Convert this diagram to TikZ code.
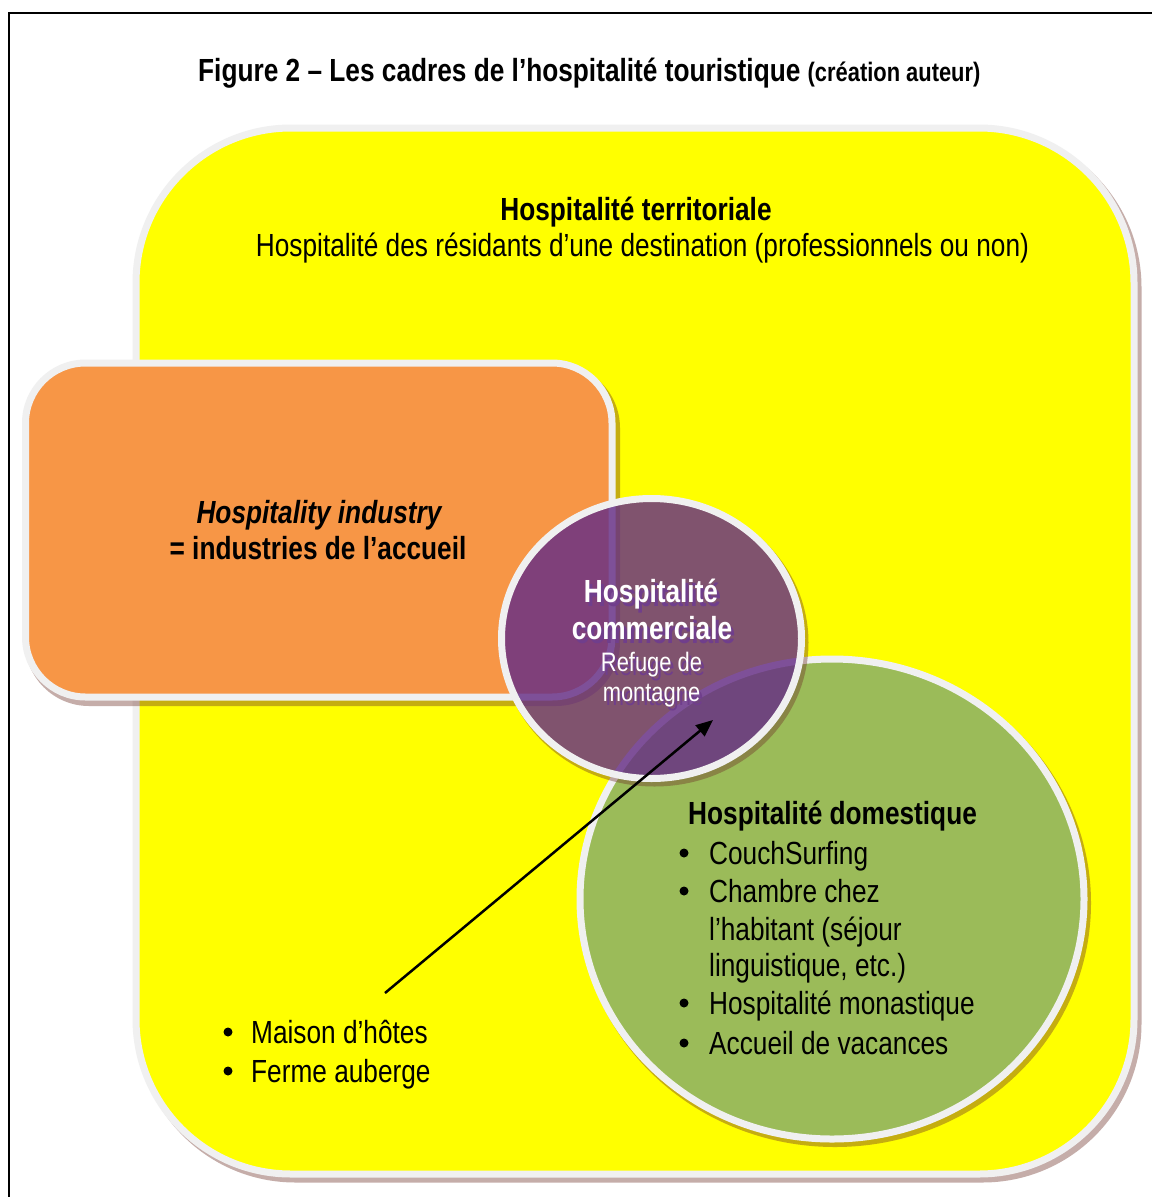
\documentclass[tikz,border=0pt]{standalone}
\usepackage{fontspec}
\setmainfont{Liberation Sans}[FakeStretch=0.82]
\usetikzlibrary{arrows.meta}

\definecolor{areaYellow}{HTML}{FFFF00}
\definecolor{rimGray}{HTML}{F0F0F0}
\definecolor{indOrange}{HTML}{F79646}
\definecolor{domGreen}{HTML}{9BBB59}
\definecolor{comPurple}{RGB}{100,45,150}
\definecolor{shadowBrown}{RGB}{110,50,40}
\definecolor{textShade}{RGB}{112,62,140}

% white text with a soft purple drop shade behind it
\newcommand{\shadedword}[1]{%
  \makebox[0pt][l]{\kern3pt\raisebox{-4pt}{\textcolor{textShade}{#1}}}\textcolor{white}{#1}}

\begin{document}
\begin{tikzpicture}[x=1pt,y=-1pt,
  rim/.style={draw=rimGray,line width=7pt},
  dropshadow/.style={fill=shadowBrown,opacity=0.4},
  big/.style={font=\fontsize{32}{38}\selectfont,inner sep=0pt},
  small/.style={font=\fontsize{26.7}{31}\selectfont,inner sep=0pt},
  leftline/.style={big,anchor=base west},
  midline/.style={big,anchor=base},
  bulletdot/.style={circle,fill=black,inner sep=0pt,minimum size=9pt}
]
% page and frame
\useasboundingbox (0,0) rectangle (1152,1197);
\fill[white] (0,0) rectangle (1152,1197);
\draw[line width=2pt] (9,1197) -- (9,13) -- (1152,13);

% title
\node[leftline,font=\fontsize{32}{38}\bfseries] (title) at (198,81)
  {Figure 2 – Les cadres de l’hospitalité touristique \fontsize{26.7}{30}\selectfont(création auteur)};

% territorial area
\fill[dropshadow,rounded corners=159pt] (136.5,128.5) rectangle (1141.5,1182.5);
\filldraw[fill=areaYellow,rim,rounded corners=155pt] (136,128) rectangle (1134,1174);

% hospitality industry box
\fill[dropshadow,rounded corners=64pt] (25,364) rectangle (620,706);
\filldraw[fill=indOrange,rim,rounded corners=60pt] (25.5,363) rectangle (612,697);

% domestic hospitality disc
\fill[dropshadow] (835,903) ellipse [x radius=256, y radius=244];
\filldraw[fill=domGreen,rim] (832,899) ellipse [x radius=252, y radius=240];

% commercial hospitality disc (translucent)
\fill[dropshadow] (654.5,642.5) ellipse [x radius=154, y radius=144];
\fill[comPurple,fill opacity=0.7] (651.5,638.5) ellipse [x radius=150, y radius=140];
\draw[rim] (651.5,638.5) ellipse [x radius=150, y radius=140];

% texts of the territorial area
\node[midline,font=\fontsize{32}{38}\bfseries] (terrTitle) at (636,220) {Hospitalité territoriale};
\node[midline] (terrText) at (642.5,256) {Hospitalité des résidants d’une destination (professionnels ou non)};

% texts of the industry box
\node[midline,font=\fontsize{32}{38}\bfseries\itshape] (indTitle) at (319,523) {Hospitality industry};
\node[midline,font=\fontsize{32}{38}\bfseries] (indText) at (318,559) {= industries de l’accueil};

% texts of the commercial disc
\node[midline,font=\fontsize{32}{38}\bfseries] (com1) at (651,602) {\shadedword{Hospitalité}};
\node[midline,font=\fontsize{32}{38}\bfseries] (com2) at (652,639) {\shadedword{commerciale}};
\node[small,anchor=base] (com3) at (651.5,671) {\shadedword{Refuge de}};
\node[small,anchor=base] (com4) at (651.5,701) {\shadedword{montagne}};

% texts of the domestic disc
\node[leftline,font=\fontsize{32}{38}\bfseries] (domTitle) at (688,824) {Hospitalité domestique};
\node[bulletdot] (db1) at (684,853) {};
\node[leftline] (dl1) at (709,864) {CouchSurfing};
\node[bulletdot] (db2) at (684,891) {};
\node[leftline] (dl2) at (709,902) {Chambre chez};
\node[leftline] (dl2b) at (709,940) {l’habitant (séjour};
\node[leftline] (dl2c) at (709,976) {linguistique, etc.)};
\node[bulletdot] (db3) at (684,1003) {};
\node[leftline] (dl3) at (709,1014) {Hospitalité monastique};
\node[bulletdot] (db4) at (684,1043) {};
\node[leftline] (dl4) at (709,1054) {Accueil de vacances};

% guest houses list
\node[bulletdot] (gb1) at (228,1032) {};
\node[leftline] (gl1) at (251,1043) {Maison d’hôtes};
\node[bulletdot] (gb2) at (228,1071) {};
\node[leftline] (gl2) at (251,1082) {Ferme auberge};

% arrow from the guest houses to the commercial disc
\coordinate (arrowFrom) at (385,993);
\coordinate (arrowTo) at (713,720);
\draw[line width=2.5pt,-{Triangle[length=17pt,width=14pt]}] (arrowFrom) -- (arrowTo);
\end{tikzpicture}
\end{document}
